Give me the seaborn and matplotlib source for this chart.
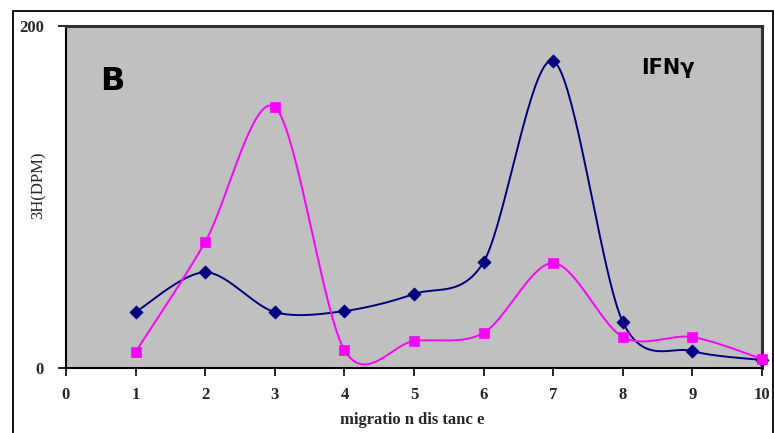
import numpy as np
import pandas as pd
import matplotlib
matplotlib.use("Agg")
import matplotlib.pyplot as plt
import seaborn as sns
from matplotlib.patches import Rectangle

distance = [1, 2, 3, 4, 5, 6, 7, 8, 9, 10]
series_navy = [32.7, 56.0, 32.7, 33.3, 43.3, 62.0, 179.5, 26.9, 9.9, 4.7]
series_magenta = [9.4, 73.7, 152.6, 10.5, 15.8, 20.5, 61.4, 18.1, 18.1, 5.3]
x_ticks = [0, 1, 2, 3, 4, 5, 6, 7, 8, 9, 10]
y_ticks = [0, 200]


def smooth(xs, ys, n=40, k=6.5):
    """Excel-style smoothed line (cubic Bezier segments, Catmull-Rom-like)."""
    xs = np.asarray(xs, float)
    ys = np.asarray(ys, float)
    pts = np.column_stack([xs, ys])
    out = []
    m = len(pts)
    for i in range(m - 1):
        p0 = pts[max(i - 1, 0)]
        p1 = pts[i]
        p2 = pts[i + 1]
        p3 = pts[min(i + 2, m - 1)]
        c1 = p1 + (p2 - p0) / k
        c2 = p2 - (p3 - p1) / k
        t = np.linspace(0, 1, n, endpoint=(i == m - 2))[:, None]
        seg = ((1 - t) ** 3) * p1 + 3 * ((1 - t) ** 2) * t * c1 + 3 * (1 - t) * t ** 2 * c2 + t ** 3 * p2
        out.append(seg)
    arr = np.vstack(out)
    return arr[:, 0], arr[:, 1]


sns.set_theme(style="white")
plt.rcParams["font.family"] = ["Liberation Serif", "DejaVu Serif"]

fig = plt.figure(figsize=(7.74, 4.33), dpi=100)
ax = fig.add_axes([66 / 774, 1 - 368 / 433, (762 - 66) / 774, (368 - 26) / 433])
ax.set_facecolor("#C0C0C0")

navy = "#000080"
magenta = "#FF00FF"

for ys, col, mk, ms in [(series_navy, navy, "D", 45), (series_magenta, magenta, "s", 60)]:
    sx, sy = smooth(distance, ys)
    df_line = pd.DataFrame({"xv": sx, "y": sy})
    sns.lineplot(data=df_line, x="xv", y="y", sort=False, estimator=None,
                 color=col, linewidth=1.4, ax=ax)
    df_pts = pd.DataFrame({"x": distance, "y": ys})
    sns.scatterplot(data=df_pts, x="x", y="y", marker=mk, s=ms, color=col,
                    edgecolor=col, linewidth=0.5, ax=ax, zorder=5, clip_on=False)

ax.set_xlim(0, 10)
ax.set_ylim(0, 200)
ax.set_xticks(x_ticks)
ax.set_yticks(y_ticks)
ax.set_xticklabels([str(v) for v in x_ticks], fontweight="bold", fontsize=12)
ax.set_yticklabels([str(v) for v in y_ticks], fontweight="bold", fontsize=12)
ax.tick_params(axis="both", direction="out", length=6, width=1.2, color="black",
               bottom=True, left=True, pad=8)
ax.tick_params(axis="y", pad=10)

ax.set_xlabel("migratio n dis tanc e", fontweight="bold", fontsize=12)
ax.xaxis.set_label_coords(0.497, -0.13)
ax.set_ylabel("3H(DPM)", fontsize=12)
ax.yaxis.set_label_coords(-0.028, 0.535)

for side in ["left", "bottom"]:
    ax.spines[side].set_color("black")
    ax.spines[side].set_linewidth(1.5)
for side in ["top", "right"]:
    ax.spines[side].set_color("#303030")
    ax.spines[side].set_linewidth(2.2)

ax.text(0.049, 0.838, "B", transform=ax.transAxes, fontsize=23, fontweight="bold",
        family=["DejaVu Sans"], ha="left", va="center", color="black")
ax.text(0.865, 0.877, "IFNγ", transform=ax.transAxes, fontsize=15, fontweight="bold",
        family=["DejaVu Sans"], ha="center", va="center", color="black")

frame = Rectangle((13 / 774, -0.1), (773 - 13) / 774, 1.1 - 11 / 433,
                  transform=fig.transFigure, fill=False, edgecolor="black",
                  linewidth=1.3, clip_on=False)
fig.patches.append(frame)

fig.savefig("out.png", dpi=100)
